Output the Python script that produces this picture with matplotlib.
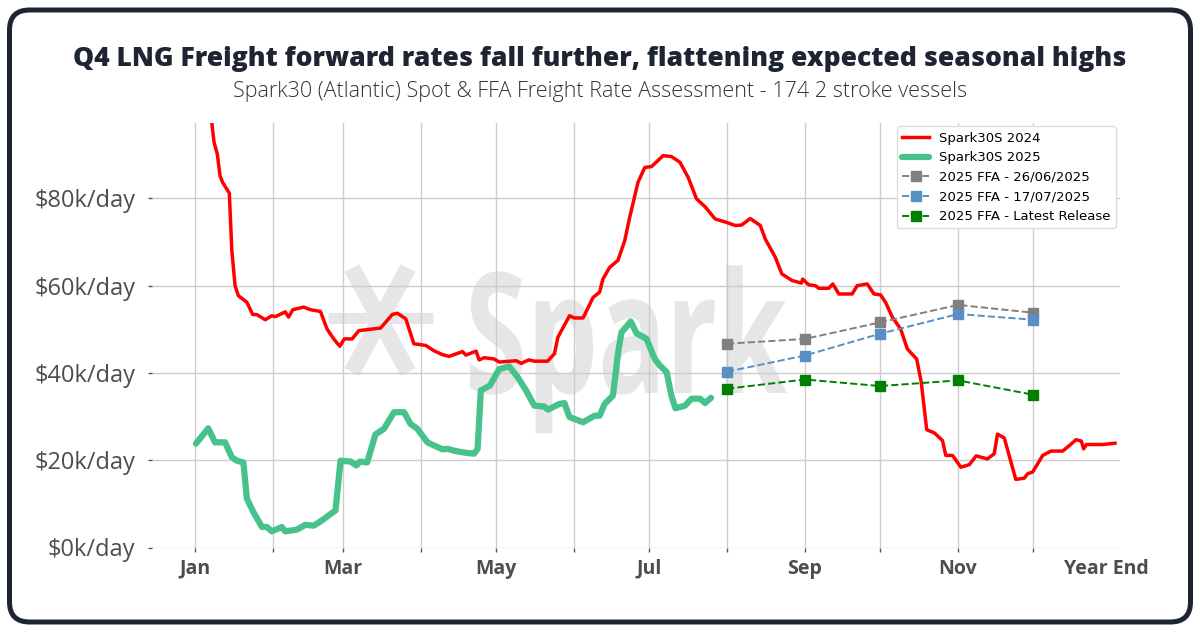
import matplotlib
matplotlib.use('Agg')
import matplotlib.pyplot as plt
from matplotlib.patches import FancyBboxPatch, PathPatch
from matplotlib.lines import Line2D
from matplotlib.textpath import TextPath
from matplotlib.font_manager import FontProperties
from matplotlib.transforms import Affine2D

# ---- data (day of year, $k/day) ----
days_2024 = [6, 7.6, 8.9, 10, 11, 13.7, 14.7, 16, 17.3, 20.7, 23, 24.6, 28, 30.6, 32, 36, 37.3, 39,
             43.3, 46, 50, 52.6, 55.3, 57.7, 59.5, 62.6, 65.3, 74, 78.6, 80.6, 84, 87.2, 92, 95.2,
             98.6, 101.2, 106.6, 107.9, 112, 113.2, 115.2, 119.2, 121.2, 128, 130, 133, 135.2, 140.5,
             143.2, 144.6, 149.2, 151.2, 154.6, 158.6, 161.2, 162.5, 165.2, 168.5, 171.2, 173.2,
             176.5, 179.2, 181.9, 186.5, 189.8, 193.2, 196.5, 199.8, 203.2, 207.2, 211.8, 215.2,
             217.8, 221.2, 225.2, 227.2, 231.2, 233.8, 237.8, 241.6, 242.1, 244.5, 247.2, 248.5,
             252.5, 254.1, 256.5, 261.8, 263.8, 267.8, 270.5, 273.1, 275.1, 277.8, 281.1, 283.8,
             287.5, 289.3, 291.5, 294.7, 297.8, 299.1, 301.8, 305.1, 308.5, 311.2, 315.7, 318.4,
             319.7, 322.4, 327, 330.4, 331.7, 333.7, 337.7, 341, 345.7, 348.4, 351, 353.1, 354,
             355.1, 361.7, 366.5]
spot_2024 = [101, 92.9, 90.2, 85.2, 83.7, 81.2, 68, 60, 57.7, 56.2, 53.4, 53.4, 52.2, 53.1, 52.9, 54, 52.8, 54.5,
             55.1, 54.5, 54.1, 50.1, 47.8, 46.1, 47.8, 47.8, 49.7, 50.3, 53.4, 53.7, 52.4, 46.7, 46.3, 45.1,
             44.2, 43.8, 44.9, 44.1, 45, 43, 43.5, 43.2, 42.5, 42.8, 42.2, 43, 42.7, 42.7,
             44.4, 48.2, 53.1, 52.6, 52.6, 57.3, 58.5, 61.5, 64.2, 65.8, 70.3, 75.7,
             83.7, 87.1, 87.3, 89.8, 89.6, 88.3, 84.8, 79.9, 78.1, 75.3, 74.5, 73.8,
             73.9, 75.4, 73.8, 70.7, 66.5, 62.7, 61.2, 60.6, 61.5, 60.2, 60, 59.4,
             59.4, 60.4, 58.1, 58.1, 60, 60.4, 58.1, 57.9, 56.2, 52.8, 50.1, 45.5,
             43.2, 38, 27, 26.2, 24.5, 21.1, 21.1, 18.4, 19, 21, 20.3, 21.5,
             26, 25.1, 15.6, 15.9, 16.9, 17.3, 21.1, 22.1, 22.1, 23.4, 24.7, 24.4, 22.6,
             23.6, 23.6, 23.9]

days_2025 = [0.4, 5.3, 8, 12, 14.7, 16.7, 19.3, 20.7, 23.3, 26.7, 28.7, 30.6, 34.6, 36, 40.6, 44, 47.3,
             50.6, 56, 58, 62, 64.3, 65.7, 68.6, 71.9, 75.3, 79.3, 83.3, 85.9, 88.6, 92.6, 95.2, 98.6,
             100.6, 103.9, 107.9, 111.2, 112.6, 113.9, 117.5, 121.2, 125.2, 128.6, 131.9, 135.2, 139.2,
             140.6, 145.2, 147.2, 149.2, 154.6, 159.2, 161.2, 163.2, 166.5, 168.5, 169.9, 173.6, 175.9,
             179.9, 183.2, 185.2, 187.9, 189.8, 191.4, 195.2, 197.8, 201.2, 203.2, 205.6]
spot_2025 = [23.8, 27.3, 24.1, 24.1, 20.7, 19.9, 19.5, 11.2, 8.1, 4.7, 4.7, 3.7, 4.7, 3.7, 4.1, 5.2, 5,
             6.2, 8.5, 19.9, 19.7, 18.8, 19.7, 19.5, 25.9, 27.2, 31, 31, 28.3, 27.2, 24.1, 23.4, 22.5,
             22.6, 22.1, 21.7, 21.5, 22.6, 36, 37.1, 40.9, 41.5, 39, 36, 32.5, 32.3,
             31.6, 32.9, 33.1, 29.9, 28.7, 30.2, 30.2, 32.9, 34.8, 44.4, 49.3, 51.8, 49.1,
             47.8, 43.2, 41.7, 40.2, 34.8, 31.9, 32.5, 34.1, 34.1, 33.1, 34.3]

ffa_days = [212, 243, 273, 304, 334]  # Aug..Dec
ffa_0626 = [46.7, 47.8, 51.6, 55.6, 53.8]
ffa_0717 = [40.3, 44.0, 49.0, 53.5, 52.2]
ffa_latest = [36.4, 38.5, 37.0, 38.3, 35.0]

month_starts = [0, 31, 59, 90, 120, 151, 181, 212, 243, 273, 304, 334]
month_labels = ['Jan', '', 'Mar', '', 'May', '', 'Jul', '', 'Sep', '', 'Nov', '']
yticks = [0, 20, 40, 60, 80]

W, H = 1200, 635
fig = plt.figure(figsize=(W / 100, H / 100), dpi=100)
fig.patch.set_facecolor('white')


def fx(x):
    return x / W


def fy(y):
    return 1 - y / H


# rounded outer frame (inches, so the corners stay round)
frame = FancyBboxPatch((0.095, 0.13), 11.81, 6.12,
                       boxstyle='round,pad=0,rounding_size=0.2',
                       transform=fig.dpi_scale_trans, facecolor='white',
                       edgecolor='#1e2431', linewidth=3.6, zorder=-5)
fig.add_artist(frame)

fig.text(0.5, fy(59), 'Q4 LNG Freight forward rates fall further, flattening expected seasonal highs',
         ha='center', va='center', fontsize=19.1, fontweight=800, family='Open Sans', color='#1e2431')
fig.text(0.5, fy(91), 'Spark30 (Atlantic) Spot & FFA Freight Rate Assessment - 174 2 stroke vessels',
         ha='center', va='center', fontsize=15.5, fontweight='light', family='Open Sans', color='#333333')

# watermark
wm_color = '#e6e6e6'
tp = TextPath((0, 0), 'Spark', size=1, prop=FontProperties(family='Open Sans', weight='bold'))
ext = tp.get_extents()
x0, x1, y0, y1 = 470, 787, 273, 393
sx = (x1 - x0) / W / ext.width
sy = (y1 - y0) / H / 0.714
tr = Affine2D().translate(-ext.x0, 0).scale(sx, sy).translate(fx(x0), fy(y1)) + fig.transFigure
fig.add_artist(PathPatch(tp, transform=tr, facecolor=wm_color, edgecolor='none', zorder=-1))
for (xa, ya, xb, yb, lw) in [(352, 268, 408, 372, 12), (408, 268, 352, 372, 12), (328, 318, 433, 318, 8)]:
    fig.add_artist(Line2D([fx(xa), fx(xb)], [fy(ya), fy(yb)], transform=fig.transFigure,
                          color=wm_color, linewidth=lw, solid_capstyle='butt', zorder=-1))

ax = fig.add_axes([fx(152), fy(547.5), fx(1120) - fx(152), fy(122.5) - fy(547.5)])
ax.set_facecolor('none')

ax.plot(days_2024, spot_2024, color='#ff0000', linewidth=2.5, label='Spark30S 2024',
        solid_joinstyle='round', zorder=3)
ax.plot(days_2025, spot_2025, color='#48c28b', linewidth=4.5, label='Spark30S 2025',
        solid_joinstyle='round', solid_capstyle='round', zorder=3)
ax.plot(ffa_days, ffa_0626, linestyle='--', color='#808080', marker='s', markersize=6.5,
        linewidth=1.4, label='2025 FFA - 26/06/2025', zorder=4)
ax.plot(ffa_days, ffa_0717, linestyle='--', color='#5a8fc6', marker='s', markersize=6.5,
        linewidth=1.4, label='2025 FFA - 17/07/2025', zorder=4)
ax.plot(ffa_days, ffa_latest, linestyle='--', color='#008000', marker='s', markersize=6.5,
        linewidth=1.4, label='2025 FFA - Latest Release', zorder=4)

ax.set_xlim(-17.1, 368.5)
ax.set_ylim(0, 97.4)

ax.set_xticks(month_starts + [363])
ax.set_xticklabels(month_labels + ['Year End'])
ax.set_yticks(yticks)
ax.set_yticklabels(['$%dk/day' % v for v in yticks])
ax.grid(True, color='#cccccc', linewidth=1.0)
ax.set_axisbelow(True)
last = ax.xaxis.get_major_ticks()[-1]
last.gridline.set_visible(False)
last.tick1line.set_visible(False)

for s in ax.spines.values():
    s.set_visible(False)
ax.tick_params(axis='both', length=3, width=1, color='#555555')
ax.tick_params(axis='y', pad=9, labelsize=17, labelcolor='#4d4d4d')
ax.tick_params(axis='x', pad=5, labelsize=14, labelcolor='#4d4d4d')
for lab in ax.get_yticklabels():
    lab.set_family('Open Sans')
    lab.set_fontweight('medium')
for lab in ax.get_xticklabels():
    lab.set_family('Open Sans')
    lab.set_fontweight('bold')

leg = ax.legend(loc='upper right', fontsize=9.5, frameon=True, framealpha=1,
                edgecolor='#dddddd', borderaxespad=0.3)
leg.get_frame().set_linewidth(1.0)

fig.savefig('out.png', dpi=100, facecolor='white')
